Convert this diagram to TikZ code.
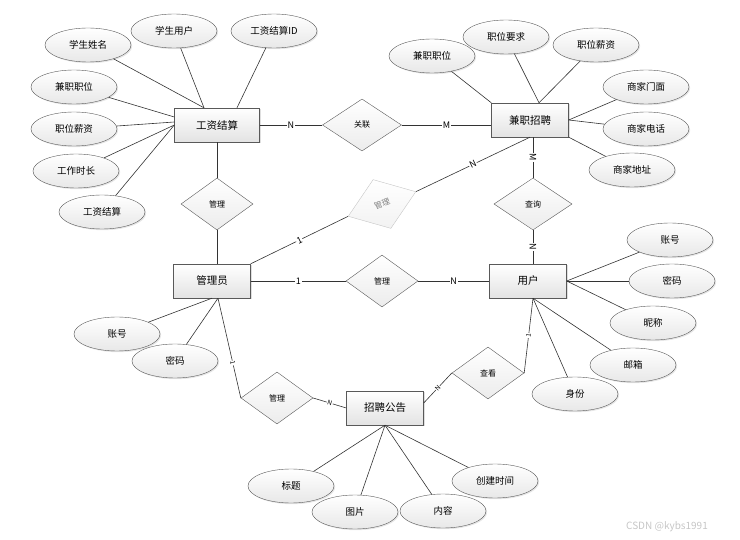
\documentclass[tikz,border=0pt]{standalone}
\usepackage{fontspec}
\setmainfont{Noto Sans CJK SC}
\usetikzlibrary{shapes.geometric,shadows}

\begin{document}
\begin{tikzpicture}[x=1pt,y=-1pt]
  \tikzstyle{entity}=[rectangle,draw=gray!70!black,top color=white,bottom color=gray!22,drop shadow={opacity=0.25,shadow xshift=1.5pt,shadow yshift=-1.5pt},minimum width=77,minimum height=34,inner sep=0pt,font=\fontsize{10.5}{12}\selectfont]
  \tikzstyle{attr}=[ellipse,draw=gray!70!black,top color=white,bottom color=gray!18,drop shadow={opacity=0.2,shadow xshift=1.2pt,shadow yshift=-1.2pt},minimum width=86,minimum height=34,inner sep=0pt,font=\fontsize{9.5}{11}\selectfont]
  \tikzstyle{relation}=[diamond,draw=gray!70!black,top color=white,bottom color=gray!15,minimum width=72,minimum height=52,inner sep=0pt,font=\fontsize{8}{9}\selectfont]
  \tikzstyle{card}=[fill=white,inner sep=0.8pt,font=\fontsize{9}{10}\selectfont]
  \tikzstyle{smallcard}=[fill=white,inner sep=0.6pt,font=\fontsize{6.5}{7}\selectfont]
  \tikzstyle{link}=[draw=black!80,line width=0.6pt]

  \useasboundingbox (0,0) rectangle (740,540);

  % entities
  \node[entity,minimum width=85](gzjs) at (217,125) {工资结算};
  \node[entity](jzzp) at (530,120) {兼职招聘};
  \node[entity](gly) at (212,281) {管理员};
  \node[entity](yh) at (528,281) {用户};
  \node[entity](zpgg) at (385,408) {招聘公告};

  % relations
  \node[relation,minimum width=79](gl) at (362,125) {关联};
  \node[relation](gl1) at (217,204) {管理};
  \node[relation,minimum width=78](cx) at (533,204) {查询};
  \node[relation](gl2) at (382,281) {管理};
  \node[relation,draw=gray!45,text=gray,top color=white,bottom color=gray!10,rotate=20](gl3) at (382,204) {管理};
  \node[relation](gl4) at (277,398) {管理};
  \node[relation](ck) at (488,373) {查看};

  % attributes of 工资结算
  \node[attr](xsxm) at (88,45) {学生姓名};
  \node[attr](xsyh) at (174,31) {学生用户};
  \node[attr](gzjsid) at (274,31) {工资结算ID};
  \node[attr](jzzw1) at (74,87) {兼职职位};
  \node[attr](zwxz1) at (74,129) {职位薪资};
  \node[attr](gzsc) at (76,171) {工作时长};
  \node[attr](gzjs2) at (102,212) {工资结算};
  \draw[link] (xsxm) -- ([xshift=-13]gzjs.north);
  \draw[link] (xsyh) -- ([xshift=-13]gzjs.north);
  \draw[link] (gzjsid) -- ([xshift=20]gzjs.north);
  \draw[link] (jzzw1) -- ([yshift=8]gzjs.west);
  \draw[link] (zwxz1) -- ([yshift=3]gzjs.west);
  \draw[link] (gzsc) -- (gzjs.west);
  \draw[link] (gzjs2) -- (gzjs.west);

  % attributes of 兼职招聘
  \node[attr](jzzw2) at (432,56) {兼职职位};
  \node[attr](zwyq) at (506,37) {职位要求};
  \node[attr](zwxz2) at (596,45) {职位薪资};
  \node[attr](sjmm) at (646,87) {商家门面};
  \node[attr](sjdh) at (646,129) {商家电话};
  \node[attr](sjdz) at (632,170) {商家地址};
  \draw[link] (jzzw2) -- (jzzp.north west);
  \draw[link] (zwyq) -- ([xshift=9]jzzp.north);
  \draw[link] (zwxz2) -- ([xshift=9]jzzp.north);
  \draw[link] (sjmm) -- (jzzp.east);
  \draw[link] (sjdh) -- (jzzp.east);
  \draw[link] (sjdz) -- (jzzp.south east);

  % attributes of 用户
  \node[attr](zh2) at (670,240) {账号};
  \node[attr](mm2) at (672,281) {密码};
  \node[attr](nc) at (653,323) {昵称};
  \node[attr](yx) at (633,365) {邮箱};
  \node[attr](sf) at (575,394) {身份};
  \draw[link] (zh2) -- (yh.east);
  \draw[link] (mm2) -- (yh.east);
  \draw[link] (nc) -- (yh.east);
  \draw[link] (yx) -- ([xshift=5]yh.south);
  \draw[link] (sf) -- ([xshift=5]yh.south);

  % attributes of 管理员
  \node[attr](zh1) at (117,334) {账号};
  \node[attr](mm1) at (175,361) {密码};
  \draw[link] (zh1) -- (gly.south);
  \draw[link] (mm1) -- ([xshift=6]gly.south);

  % attributes of 招聘公告
  \node[attr](bt) at (291,486) {标题};
  \node[attr](tp) at (355,512) {图片};
  \node[attr](nr) at (443,511) {内容};
  \node[attr](cjsj) at (495,481) {创建时间};
  \draw[link] (bt) -- (zpgg.south);
  \draw[link] (tp) -- (zpgg.south);
  \draw[link] (nr) -- (zpgg.south);
  \draw[link] (cjsj) -- (zpgg.south);

  % relationships
  \draw[link] (gzjs.east) -- node[card](c1){N} (gl.west);
  \draw[link] (gl.east) -- node[card](c2){M} (gl.east -| jzzp.west);
  \draw[link] (gzjs.south -| gl1.north) -- (gl1.north);
  \draw[link] (gl1.south) -- (gl1.south |- gly.north);
  \draw[link] (cx.north |- jzzp.south) -- node[card,sloped](c3){M} (cx.north);
  \draw[link] (cx.south) -- node[card,sloped](c4){N} (cx.south |- yh.north);
  \draw[link] (gly.east) -- node[card](c5){1} (gl2.west);
  \draw[link] (gl2.east) -- node[card](c6){N} (yh.west);
  \draw[link] (gly.north east) -- node[card,sloped](c7){1} (gl3.west);
  \draw[link] (gl3.east) -- node[card,sloped](c8){N} (jzzp.south);
  \draw[link] ([xshift=6]gly.south) -- node[smallcard,sloped,pos=0.65](c9){1} (gl4.west);
  \draw[link] (gl4.east) -- node[smallcard,sloped](c10){N} (zpgg.west);
  \draw[link] ([yshift=5]zpgg.east) -- node[smallcard,sloped](c11){N} (ck.west);
  \draw[link] (ck.east) -- node[smallcard,sloped](c12){1} ([xshift=5]yh.south);

  \node[text=gray!45,font=\fontsize{10}{12}\selectfont](mark) at (667,527) {CSDN @kybs1991};
\end{tikzpicture}
\end{document}
